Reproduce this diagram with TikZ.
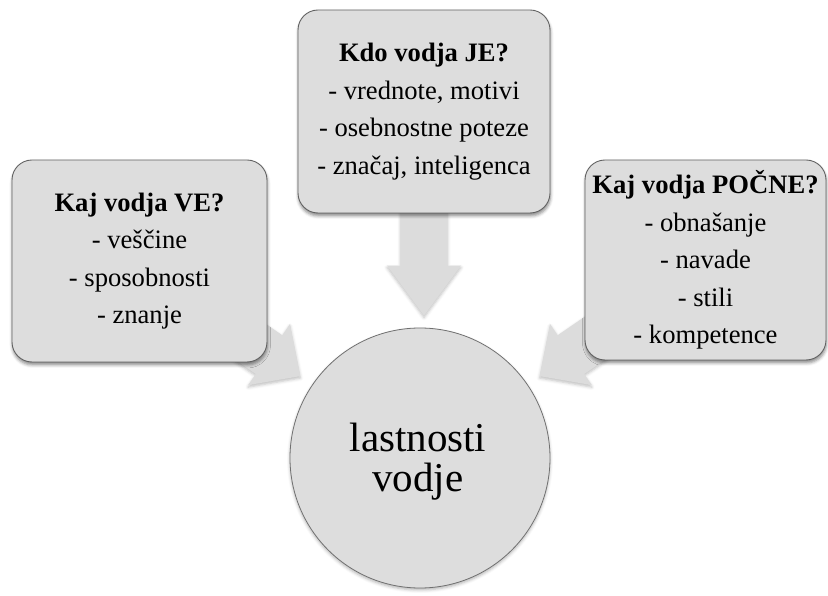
\documentclass[tikz,border=0pt]{standalone}
\usepackage{fontspec}
\setmainfont{Liberation Serif}
\usetikzlibrary{calc,shadows.blur,backgrounds}

\definecolor{boxfill}{HTML}{DDDDDD}
\definecolor{boxline}{HTML}{626262}
\definecolor{arrowfill}{HTML}{DCDCDC}
\definecolor{hubline}{HTML}{707070}

\tikzset{
  askbox/.style={
    draw=boxline, line width=0.9pt, fill=boxfill, rounded corners=20pt,
    align=center, inner sep=0pt,
    font=\fontsize{26.6}{37.5}\selectfont,
    blur shadow={shadow xshift=0.5pt, shadow yshift=-3pt,
                 shadow blur radius=3pt, shadow opacity=45}},
  hub/.style={
    circle, draw=hubline, line width=0.8pt, fill=boxfill,
    minimum size=260pt, inner sep=0pt,
    blur shadow={shadow xshift=0pt, shadow yshift=-2pt,
                 shadow blur radius=3pt, shadow opacity=30}},
  hubtext/.style={align=center, inner sep=0pt,
    font=\fontsize{41}{40}\selectfont},
  blockarrow/.style={
    fill=arrowfill,
    blur shadow={shadow xshift=0pt, shadow yshift=-2pt,
                 shadow blur radius=3pt, shadow opacity=25}},
  % block arrow pointing along +x with its tip at the origin:
  % #1 = overall length, #2 = head length
  pics/fatarrow/.style 2 args={code={
    \fill[blockarrow] (0,0) -- (-#2,37) -- (-#2,23.5) -- (-#1,23.5)
      -- (-#1,-23.5) -- (-#2,-23.5) -- (-#2,-37) -- cycle;}},
}

\begin{document}
\begin{tikzpicture}[x=1pt, y=1pt]
  \useasboundingbox (0,0) rectangle (828,595);

  % central circle
  \node[hub] (hub) at (420,137) {};
  \node[hubtext] (hubtxt) at ($(hub.center)+(-2,-4)$) {lastnosti\\vodje};

  % the three question boxes
  \node[askbox, minimum width=255pt, minimum height=202pt] (ve) at (139.5,334)
    {\textbf{Kaj vodja VE?}\\- veščine\\- sposobnosti\\- znanje};
  \node[askbox, minimum width=252pt, minimum height=203pt] (je) at (424,483.5)
    {\textbf{Kdo vodja JE?}\\- vrednote, motivi\\- osebnostne poteze\\- značaj, inteligenca};
  \node[askbox, minimum width=241pt, minimum height=200pt] (pocne) at (705.5,335)
    {\textbf{Kaj vodja POČNE?}\\- obnašanje\\- navade\\- stili\\- kompetence};

  % arrow tips just outside the circle
  \coordinate (tipve) at ($(hub.center)+(145.6:145)$);
  \coordinate (tipje) at ($(hub.north -| je.center)+(0,12)$);
  \coordinate (tippocne) at ($(hub.center)+(34.4:145)$);

  % block arrows from each box to the circle, tucked under the boxes
  \begin{scope}[on background layer]
    \pic[rotate=-34.4] at (tipve) {fatarrow={110}{38}};
    \pic[rotate=-90] at (tipje) {fatarrow={125}{50}};
    \pic[rotate=214.4] at (tippocne) {fatarrow={110}{38}};
  \end{scope}
\end{tikzpicture}
\end{document}
